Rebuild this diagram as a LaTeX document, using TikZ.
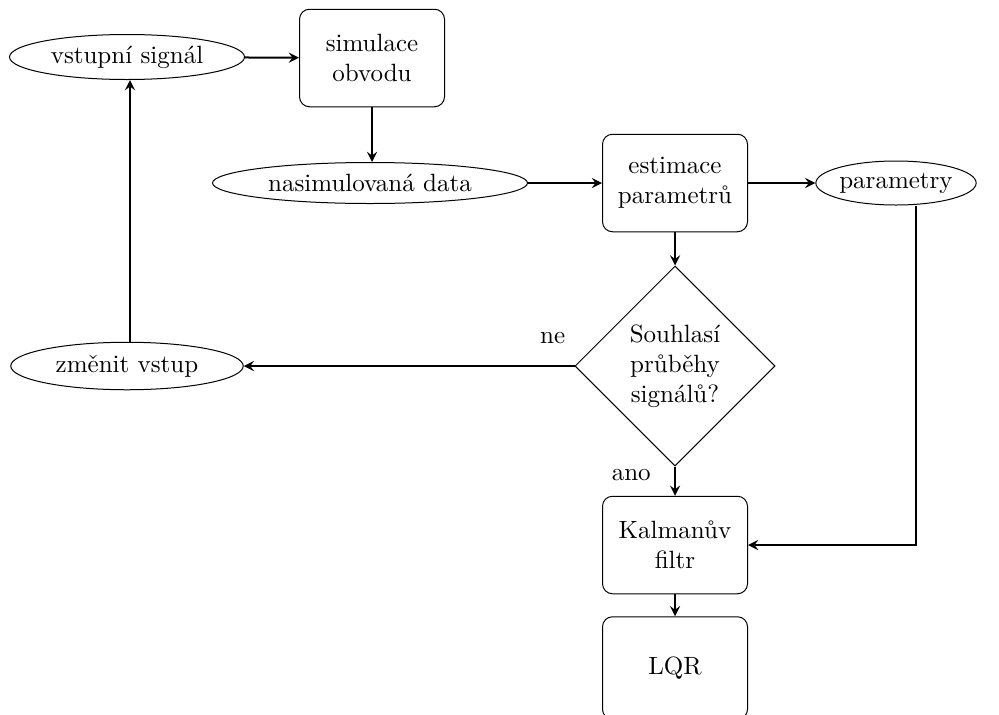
\documentclass[tikz,border=0pt]{standalone}
\usepackage{tikz}
\usetikzlibrary{arrows}
\usetikzlibrary{shapes}
\usetikzlibrary{shapes.geometric}
\usetikzlibrary{positioning}

\tikzset{
  blok/.style={draw, rounded corners=4pt, minimum width=58pt, minimum height=39pt, align=center, inner sep=2pt},
  data/.style={draw, ellipse, inner sep=0pt},
  rozhod/.style={draw, diamond, aspect=1, minimum width=80pt, minimum height=80pt, inner sep=0pt, align=center},
  sipka/.style={->, thick}
}

\begin{document}
\begin{tikzpicture}[>=stealth, x=0.4pt, y=-0.4pt]
    \path[use as bounding box] (0,0) rectangle (999,714);

\node[data, minimum width=94pt, minimum height=18pt] (vstup) at (127,57) {vstupní signál};
\node[blok] (sim) at (372,58) {simulace\\obvodu};
\node[data, minimum width=126pt, minimum height=16.4pt] (nasim) at (370,183) {nasimulovaná data};
\node[blok] (est) at (675,183) {estimace\\parametrů};
\node[data, minimum width=59pt, minimum height=17.6pt] (param) at (896,183) {parametry};
\node[rozhod] (souhlas) at (675,366) {Souhlasí\\průběhy\\signálů?};
\node[data, minimum width=93pt, minimum height=19pt] (zmena) at (127,366) {změnit vstup};
\node[blok] (kalman) at (675,545) {Kalmanův\\filtr};
\node[blok, minimum height=41pt] (lqr) at (675,668) {LQR};

\draw[sipka] (vstup) -- (sim);
\draw[sipka] (sim) -- (sim |- nasim.north);
\draw[sipka] (nasim) -- (est);
\draw[sipka] (est) -- (param);
\draw[sipka] (est) -- (souhlas);
\draw[sipka] (souhlas.west) -- node[pos=0, above left, yshift=5pt] {ne} (zmena.east);
\draw[sipka] (souhlas.south) -- node[pos=0.3, left=6pt] {ano} (kalman.north);
\draw[sipka] (zmena.north -| 130,0) -- (vstup.south -| 130,0);
\coordinate (p) at ([xshift=8pt]param.south);
\draw[sipka] (p) |- (kalman.east);
\draw[sipka] (kalman) -- (lqr);
\end{tikzpicture}
\end{document}
